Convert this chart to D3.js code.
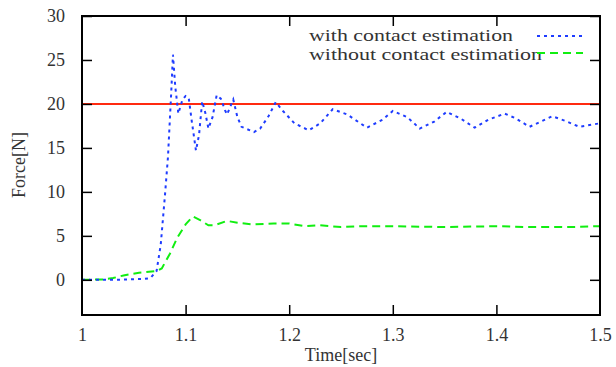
<!DOCTYPE html>
<html><head><meta charset="utf-8">
<script src="https://cdn.jsdelivr.net/npm/d3@7/dist/d3.min.js"></script>
<style>body{margin:0;background:#fff}svg{display:block}</style>
</head><body><svg id="c" width="616" height="367"></svg>
<script>
const xTicks = [1, 1.1, 1.2, 1.3, 1.4, 1.5];
const yTicks = [0, 5, 10, 15, 20, 25, 30];
const seriesNames = ["with contact estimation", "without contact estimation"];
const referenceForce = 20;
const withTime = [1.0,1.03,1.06,1.066,1.072,1.076,1.080,1.083,1.086,1.0878,1.090,1.093,1.097,1.100,1.103,1.106,1.110,1.113,1.116,1.119,1.122,1.126,1.130,1.134,1.138,1.140,1.146,1.150,1.154,1.166,1.172,1.180,1.187,1.194,1.205,1.219,1.230,1.242,1.256,1.275,1.290,1.300,1.314,1.326,1.340,1.352,1.366,1.379,1.392,1.408,1.418,1.432,1.443,1.454,1.466,1.480,1.490,1.500];
const withForce = [0,0,0.1,0.2,1.0,4,9.5,14,21,25.6,22,18.9,20.5,20.9,20.7,18,14.7,16.5,20.3,19,17.2,18.5,21,20.6,19.3,18.8,20.5,18.5,17.4,16.8,17.2,18.6,20.2,19.2,17.8,17.0,17.8,19.4,18.8,17.3,18.2,19.2,18.5,17.2,18.0,19.1,18.3,17.3,18.2,18.9,18.4,17.4,18.0,18.6,18.1,17.4,17.6,17.8];
const withoutTime = [1.0,1.02,1.03,1.04,1.055,1.072,1.077,1.085,1.092,1.100,1.107,1.114,1.122,1.128,1.140,1.150,1.165,1.185,1.2,1.215,1.23,1.25,1.27,1.30,1.35,1.40,1.43,1.45,1.47,1.5];
const withoutForce = [0,0.05,0.2,0.5,0.8,1.0,1.3,3.0,4.8,6.3,7.2,6.8,6.2,6.2,6.7,6.5,6.3,6.4,6.4,6.1,6.2,6.0,6.1,6.1,6.0,6.1,6.0,6.0,6.0,6.1];

const svg = d3.select("#c");
const L = 82, R = 600, T = 16, B = 315;
const x = d3.scaleLinear().domain([1, 1.5]).range([L, R]);
const y = d3.scaleLinear().domain([-4, 30]).range([B, T]);
const font = "'Liberation Serif', 'DejaVu Serif', serif";
const txt = "#333";

// reference line
svg.append("line").attr("x1", x(1)).attr("x2", x(1.5)).attr("y1", y(referenceForce)).attr("y2", y(referenceForce))
  .attr("stroke", "#ff2a10").attr("stroke-width", 2);

const line = d3.line().x(d => x(d[0])).y(d => y(d[1]));
const withData = withTime.map((t, i) => [t, withForce[i]]);
const withoutData = withoutTime.map((t, i) => [t, withoutForce[i]]);
svg.append("path").datum(withoutData).attr("d", line).attr("fill", "none")
  .attr("stroke", "#11ee11").attr("stroke-width", 2).attr("stroke-dasharray", "8,5");
svg.append("path").datum(withData).attr("d", line).attr("fill", "none")
  .attr("stroke", "#1e3cff").attr("stroke-width", 2).attr("stroke-dasharray", "3,4");

// axes
const gx = svg.append("g").attr("transform", `translate(0,${B})`)
  .call(d3.axisBottom(x).tickValues(xTicks).tickSizeInner(-10).tickSizeOuter(0).tickPadding(13).tickFormat(d3.format("")));
const gxt = svg.append("g").attr("transform", `translate(0,${T})`)
  .call(d3.axisTop(x).tickValues(xTicks).tickSizeInner(-10).tickSizeOuter(0).tickFormat(""));
const gy = svg.append("g").attr("transform", `translate(${L},0)`)
  .call(d3.axisLeft(y).tickValues(yTicks).tickSizeInner(-10).tickSizeOuter(0).tickPadding(17));
const gyr = svg.append("g").attr("transform", `translate(${R},0)`)
  .call(d3.axisRight(y).tickValues(yTicks).tickSizeInner(-10).tickSizeOuter(0).tickFormat(""));
[gx, gxt, gy, gyr].forEach(g => {
  g.select(".domain").remove();
  g.selectAll(".tick line").attr("stroke", "#000").attr("stroke-width", 1.5);
  g.selectAll("text").attr("font-family", font).attr("font-size", 18).attr("fill", txt);
});
gx.selectAll(".tick").filter(d => d === 1 || d === 1.5).select("line").remove();
gxt.selectAll(".tick").filter(d => d === 1 || d === 1.5).select("line").remove();
svg.append("rect").attr("x", L).attr("y", T).attr("width", R - L).attr("height", B - T)
  .attr("fill", "none").attr("stroke", "#000").attr("stroke-width", 2);

svg.append("text").attr("x", (L + R) / 2).attr("y", 361).attr("text-anchor", "middle")
  .attr("font-family", font).attr("font-size", 18).attr("fill", txt).text("Time[sec]");
svg.append("text").attr("transform", "translate(25,165) rotate(-90)").attr("text-anchor", "middle")
  .attr("font-family", font).attr("font-size", 18).attr("fill", txt).text("Force[N]");

// legend
const leg = [
  {name: seriesNames[0], color: "#1e3cff", dash: "3,4", y: 36, ty: 41, w: 204},
  {name: seriesNames[1], color: "#11ee11", dash: "8,5", y: 53, ty: 60, w: 233}
];
leg.forEach(d => {
  svg.append("text").attr("x", 309).attr("y", d.ty).attr("font-family", font).attr("font-size", 16)
    .attr("fill", txt).attr("textLength", d.w).attr("lengthAdjust", "spacingAndGlyphs").text(d.name);
  svg.append("line").attr("x1", 537).attr("x2", 583).attr("y1", d.y).attr("y2", d.y)
    .attr("stroke", d.color).attr("stroke-width", 2).attr("stroke-dasharray", d.dash);
});
</script></body></html>
